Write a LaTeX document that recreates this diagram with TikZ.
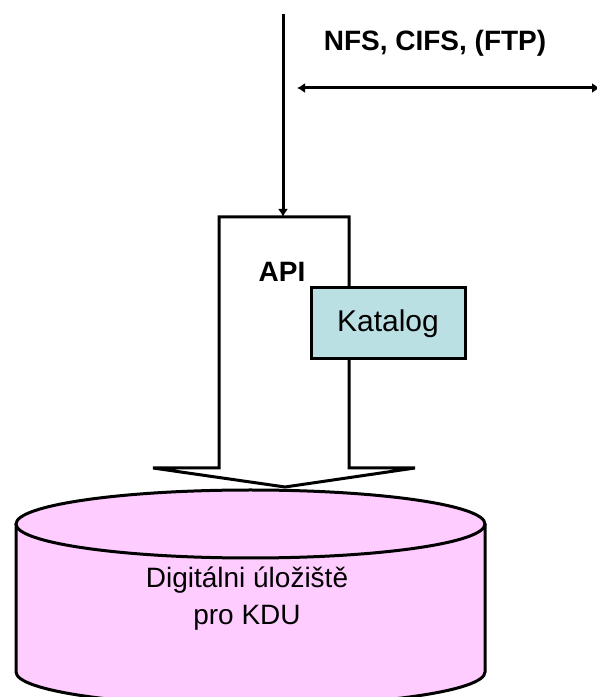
\documentclass[tikz,border=0pt]{standalone}
\usepackage{fontspec}
\setmainfont{Liberation Sans}
\usetikzlibrary{arrows.meta}

\definecolor{storagepink}{RGB}{255,204,255}
\definecolor{catalogblue}{RGB}{187,224,227}

\begin{document}
\begin{tikzpicture}[%
        x = 0.5pt,
        y = 0.5pt,
        line width = 1.5pt,
        > = {Latex[length = 4pt, width = 5pt]},
        plaintext/.style = {font = \fontsize{14}{18.5}\selectfont},
        boldtext/.style = {font = \fontsize{14}{17}\selectfont\bfseries},
    ]
        \useasboundingbox (0, 0) rectangle (596, 697);

        % Position of the points.
        \coordinate (inlet) at (283, 683);
        \coordinate (apitop) at (283, 480);
        \coordinate (shareleft) at (297, 609);
        \coordinate (shareright) at (600, 609);

        % Draw the storage cylinder.
        \fill[storagepink] (16, 173) -- (16, 25)
            arc[start angle = 180, end angle = 360, x radius = 234.5, y radius = 34]
            -- (485, 173) -- cycle;
        \draw (16, 173) -- (16, 25)
            arc[start angle = 180, end angle = 360, x radius = 234.5, y radius = 34]
            -- (485, 173);
        \filldraw[fill = storagepink] (250.5, 173) ellipse [x radius = 234.5, y radius = 34];

        % Draw the API block arrow.
        \filldraw[fill = white] (219, 229) -- (219, 480) -- (349, 480) -- (349, 229)
            -- (415, 229) -- (285, 210) -- (153, 229) -- cycle;

        % Label the blocks.
        \node (api) at (282, 425) [boldtext] {API};
        \node (katalog) at (388, 373.5) [
            draw,
            fill = catalogblue,
            minimum width = 77pt,
            minimum height = 35.5pt,
            inner sep = 0pt,
            font = \fontsize{15}{18}\selectfont,
        ] {Katalog};
        \node (storage) at (247, 98) [plaintext, align = center] {Digitálni úložiště\\pro KDU};

        % Draw the arrows.
        \draw[->] (inlet) to (apitop);
        \draw[<->] (shareleft) to (shareright);
        \node (protocols) at (435, 654) [boldtext] {NFS, CIFS, (FTP)};
    \end{tikzpicture}
\end{document}
